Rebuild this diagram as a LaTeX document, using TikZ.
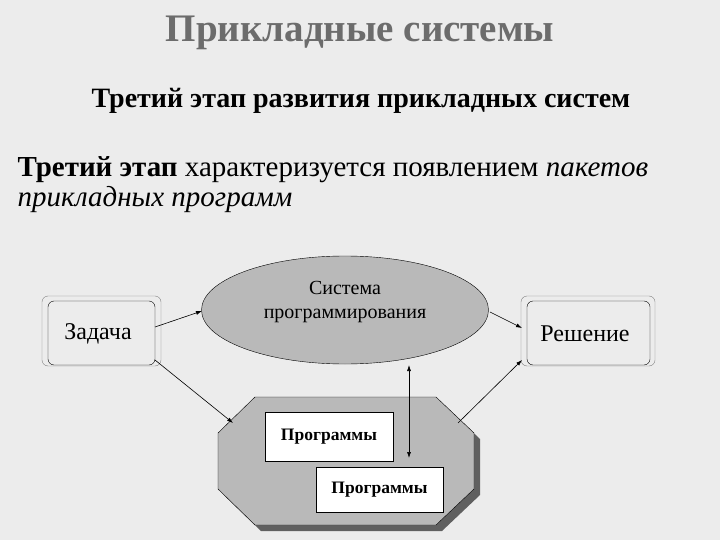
\documentclass[tikz,border=0pt]{standalone}
\usepackage{fontspec}
\setmainfont{Liberation Serif}
\usetikzlibrary{arrows.meta,shapes.geometric}
\begin{document}
\begin{tikzpicture}[x=1pt,y=-1pt,
 conn/.style={-{Latex[length=6pt,width=4pt]},semithick},
 prog/.style={draw,fill=white,font=\bfseries\fontsize{17.5}{20}\selectfont}]
\fill[gray!15!white] (0,0) rectangle (720,540);
\useasboundingbox (0,0) rectangle (720,540);
\node[font=\bfseries\fontsize{39}{44}\selectfont,text=gray!85!black] (t) at (360,33) {Прикладные системы};
\node[font=\bfseries\fontsize{28}{32}\selectfont] (s) at (361,101) {Третий этап развития прикладных систем};
\node[anchor=west,font=\fontsize{29}{33}\selectfont] (p1) at (14,170) {\textbf{Третий этап} характеризуется появлением \textit{пакетов}};
\node[anchor=west,font=\fontsize{29}{33}\selectfont] (p2) at (14,200) {\textit{прикладных программ}};
% Zadacha
\draw[rounded corners=6pt,gray] (42,296) rectangle (161,366);
\draw[rounded corners=6pt] (48,301) rectangle (155,365);
\node[font=\fontsize{24}{28}\selectfont] (z) at (98,334) {Задача};
\coordinate (zr) at (155,327);
\coordinate (zb) at (155,360);
% Reshenie
\draw[rounded corners=6pt,gray] (521,296) rectangle (655,366);
\draw[rounded corners=6pt] (527,301) rectangle (650,365);
\node[font=\fontsize{24}{28}\selectfont] (r) at (585,334) {Решение};
% ellipse
\node[ellipse,draw,fill=gray!55!white,minimum width=287pt,minimum height=108pt] (e) at (345,310) {};
\node[align=center,font=\fontsize{20}{24}\selectfont] (et) at (345,302) {Система\\программирования};
% octagon
\fill[gray!75!black] (261,403)--(442,403)--(480,439)--(480,495)--(442,531)--(261,531)--(224,495)--(224,439)--cycle;
\draw[fill=gray!55!white] (255,397)--(436,397)--(474,433)--(474,489)--(436,525)--(255,525)--(218,489)--(218,433)--cycle;
\node[prog,minimum width=128pt,minimum height=49pt] (p1b) at (329,436.5) {Программы};
\node[prog,minimum width=127pt,minimum height=45pt] (p2b) at (379.5,489.5) {Программы};
% arrows
\draw[conn] (zr) -- (202,311);
\draw[conn] (zb) -- (233,423);
\draw[conn] (490,312) -- (522,328);
\draw[conn] (458,423) -- (522,360);
\draw[{Latex[length=6pt,width=4pt]}-{Latex[length=6pt,width=4pt]},semithick] (409,365) -- (409,458);
\end{tikzpicture}
\end{document}
